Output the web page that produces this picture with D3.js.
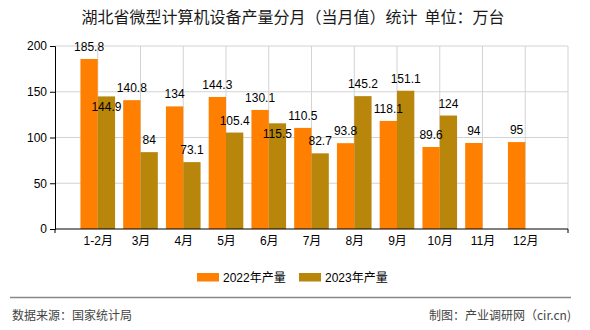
<!DOCTYPE html>
<html>
<head>
<meta charset="utf-8">
<script src="https://cdn.jsdelivr.net/npm/d3@7"></script>
<style>
html,body{margin:0;padding:0;background:#fff;}
svg{display:block;}
</style>
</head>
<body>
<svg id="chart" width="590" height="330"></svg>
<script>
const categories = ["1-2月","3月","4月","5月","6月","7月","8月","9月","10月","11月","12月"];
const values2022 = [185.8,140.8,134,144.3,130.1,110.5,93.8,118.1,89.6,94,95];
const values2023 = [144.9,84,73.1,105.4,115.5,82.7,145.2,151.1,124,null,null];
const seriesNames = ["2022年产量","2023年产量"];
const yTicks = [0,50,100,150,200];
const labelsInside2023 = ["1-2月","6月"];

const colors = ["#FF8000","#B8860B"];
const svg = d3.select("#chart");
const pL = 55, pR = 568, pT = 46, pB = 229;

const x = d3.scalePoint().domain(categories).range([pL, pR]).padding(1);
const y = d3.scaleLinear().domain([0,200]).range([pB, pT]);
const bw = x.step() * 0.405;

// title
svg.append("text")
  .attr("x", 293).attr("y", 23)
  .attr("text-anchor","middle")
  .attr("font-family","'Noto Sans CJK SC', sans-serif")
  .attr("font-size", 16)
  .attr("fill","#1a1a1a")
  .attr("xml:space","preserve")
  .text("湖北省微型计算机设备产量分月（当月值）统计  单位：万台");

// grid
const g = svg.append("g");
g.selectAll("line.hg").data(yTicks.filter(d=>d>0)).join("line")
  .attr("x1", pL).attr("x2", pR)
  .attr("y1", d=>y(d)).attr("y2", d=>y(d))
  .attr("stroke","#d3d3d3").attr("stroke-width",1);
g.selectAll("line.vg").data(categories).join("line")
  .attr("x1", d=>x(d)).attr("x2", d=>x(d))
  .attr("y1", pT).attr("y2", pB)
  .attr("stroke","#d3d3d3").attr("stroke-width",1);
g.append("line").attr("x1", pR).attr("x2", pR).attr("y1", pT).attr("y2", pB)
  .attr("stroke","#d3d3d3");

// bars
const data = categories.map((c,i)=>({c, v:[values2022[i], values2023[i]]}));
[0,1].forEach(s=>{
  svg.append("g").selectAll("rect").data(data.filter(d=>d.v[s]!=null)).join("rect")
    .attr("x", d=> s===0 ? x(d.c)-bw : x(d.c))
    .attr("y", d=>y(d.v[s]))
    .attr("width", bw)
    .attr("height", d=>pB - y(d.v[s]))
    .attr("fill", colors[s]);
});

// axes
const yAxis = svg.append("g").attr("transform",`translate(${pL},0)`)
  .call(d3.axisLeft(y).tickValues(yTicks).tickSize(5).tickPadding(3));
yAxis.select(".domain").attr("stroke","#000");
yAxis.selectAll(".tick line").attr("stroke","#000");
yAxis.selectAll("text").attr("font-family","'Liberation Sans', sans-serif").attr("font-size",12).attr("fill","#000");

const xAxis = svg.append("g").attr("transform",`translate(0,${pB})`)
  .call(d3.axisBottom(x).tickSize(0).tickPadding(7));
xAxis.select(".domain").attr("stroke","#000").attr("d", `M${pL},0H${pR}`);
xAxis.selectAll("text").attr("font-family","'Liberation Sans','Noto Sans CJK SC', sans-serif").attr("font-size",12).attr("fill","#000");
svg.append("g").selectAll("line").data([pL,pR]).join("line")
  .attr("x1",d=>d).attr("x2",d=>d).attr("y1",pB).attr("y2",pB+4).attr("stroke","#000");

// value labels
[0,1].forEach(s=>{
  svg.append("g").selectAll("text").data(data.filter(d=>d.v[s]!=null)).join("text")
    .attr("x", d=> s===0 ? x(d.c)-bw/2 : x(d.c)+bw/2)
    .attr("y", d=> (s===1 && labelsInside2023.includes(d.c)) ? y(d.v[s])+15 : y(d.v[s])-8)
    .attr("text-anchor","middle")
    .attr("font-family","'Liberation Sans', sans-serif")
    .attr("font-size",12)
    .attr("fill","#000")
    .text(d=>d.v[s]);
});

// legend
const legendX = [197, 299];
seriesNames.forEach((n,i)=>{
  svg.append("rect").attr("x",legendX[i]).attr("y",273).attr("width",22).attr("height",8.5).attr("fill",colors[i]);
  svg.append("text").attr("x",legendX[i]+26).attr("y",281.5)
    .attr("font-family","'Liberation Sans','Noto Sans CJK SC', sans-serif")
    .attr("font-size",12).attr("fill","#000").text(n);
});

// footer
svg.append("line").attr("x1",10).attr("x2",571).attr("y1",297.5).attr("y2",297.5)
  .attr("stroke","#888").attr("stroke-width",1.5);
svg.append("text").attr("x",12).attr("y",319.5)
  .attr("font-family","'Noto Sans CJK SC', sans-serif").attr("font-size",12).attr("fill","#444")
  .text("数据来源：国家统计局");
svg.append("text").attr("x",571).attr("y",319.5).attr("text-anchor","end")
  .attr("font-family","'Noto Sans CJK SC', sans-serif").attr("font-size",12).attr("fill","#444")
  .text("制图：产业调研网（cir.cn)");
</script>
</body>
</html>
